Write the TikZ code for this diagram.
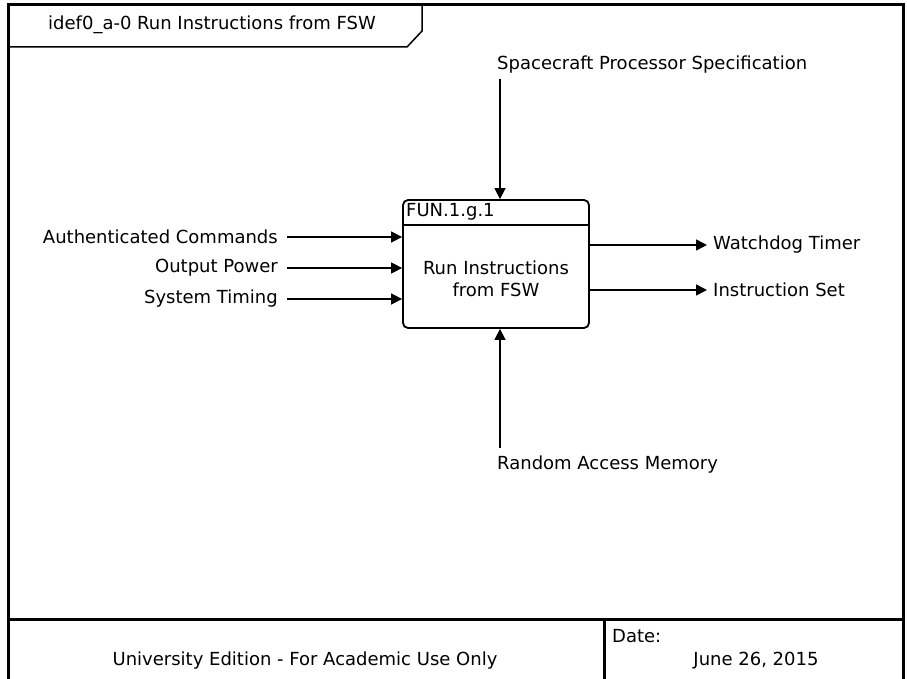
\documentclass[tikz,border=0pt]{standalone}
\usepackage{fontspec}
\setmainfont{DejaVu Sans}
\usetikzlibrary{arrows.meta,positioning}
\begin{document}
\begin{tikzpicture}[x=1pt,y=-1pt,>={Triangle[length=11pt,width=11pt]},
    rotulo/.style={font=\fontsize{18}{22}\selectfont, inner sep=2pt},
    seta/.style={->, line width=1.5pt},
    moldura/.style={line width=3pt}]
    \clip (0,0) rectangle (907,679);
    \fill[white] (0,0) rectangle (907,679);

    % Moldura
    \draw[moldura] (8,5) rectangle (903,700);
    \draw[moldura] (8,619) -- (903,619);
    \draw[moldura] (604,619) -- (604,700);

    % Aba do titulo
    \draw[line width=1.5pt] (8,5) -- (422,5) -- (422,31) -- (407,47) -- (8,47);
    \node[rotulo] (titulo) at (212,25) {idef0\_a-0 Run Instructions from FSW};

    % Caixa da funcao
    \node[draw, line width=1.8pt, rounded corners=5pt, minimum width=186pt, minimum height=128pt] (fun) at (496,264) {};
    \draw[line width=1.8pt] (fun.north west |- 0,225) -- (fun.north east |- 0,225);
    \node[rotulo, anchor=west] (cod) at (404,212) {FUN.1.g.1};
    \node[rotulo, align=center] (nome) at (496,279) {Run Instructions\\from FSW};

    % Entradas
    \node[rotulo, anchor=east] (auth) at (280,237) {Authenticated Commands};
    \node[rotulo, anchor=east] (pot) at (280,268) {Output Power};
    \node[rotulo, anchor=east] (tempo) at (280,299) {System Timing};
    \foreach \n in {auth,pot,tempo} {
        \draw[seta] ([xshift=7pt]\n.east) -- (\n.east -| fun.west);
    }

    % Controle e mecanismo
    \node[rotulo, anchor=west] (spec) at (495,65) {Spacecraft Processor Specification};
    \draw[seta] ([xshift=5pt,yshift=-3pt]spec.south west) -- ([xshift=5pt]spec.south west |- fun.north);
    \node[rotulo, anchor=west] (ram) at (495,465) {Random Access Memory};
    \draw[seta] ([xshift=5pt,yshift=6pt]ram.north west) -- ([xshift=5pt]ram.north west |- fun.south);

    % Saidas
    \node[rotulo, anchor=west] (wd) at (711,245) {Watchdog Timer};
    \node[rotulo, anchor=west] (iset) at (711,290) {Instruction Set};
    \foreach \n in {wd,iset} {
        \draw[seta] (fun.east |- \n.west) -- ([xshift=-4pt]\n.west);
    }

    % Rodape
    \node[rotulo] (edicao) at (305,661) {University Edition - For Academic Use Only};
    \node[rotulo, anchor=west] (data) at (610,636) {Date:};
    \node[rotulo] (dia) at (756,661) {June 26, 2015};
\end{tikzpicture}
\end{document}
